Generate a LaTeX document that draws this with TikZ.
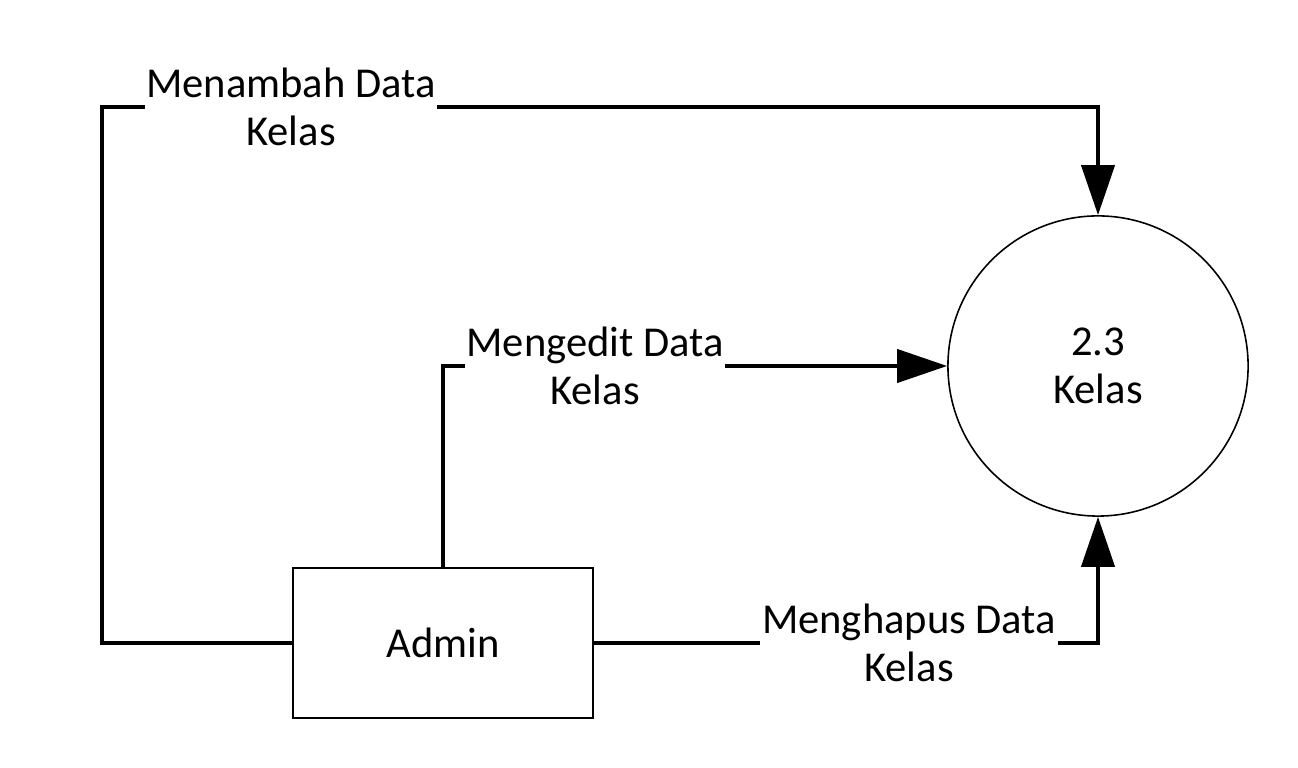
\documentclass[tikz,border=0pt]{standalone}
\usepackage{fontspec}
\setmainfont{Carlito}
\usetikzlibrary{arrows.meta}
\begin{document}
\begin{tikzpicture}[x=0.01cm,y=-0.01cm,
  every node/.style={font=\fontsize{12.1}{13.7}\selectfont},
  flow/.style={line width=1.2pt},
  arr/.style={flow,-{Triangle[length=0.5cm,width=0.33cm]}},
  lbl/.style={fill=white,align=center,inner xsep=0.5pt,inner ysep=1pt},
  entity/.style={draw,line width=0.45pt,minimum width=3cm,minimum height=1.5cm,inner sep=0pt},
  process/.style={draw,circle,line width=0.45pt,minimum size=3cm,inner sep=0pt,align=center}]
\useasboundingbox (0,0) rectangle (1298,768);
\node[entity] (admin) at (443,643) {Admin};
\node[process] (kelas) at (1098,366) {2.3\\Kelas};
\coordinate (c1) at (102,643);
\coordinate (c2) at (102,107);
\coordinate (c3) at (1098,107);
\coordinate (c4) at (443,366);
\coordinate (c5) at (1098,643);
\draw[arr] (admin.west) -- (c1) -- (c2) -- (c3) -- (kelas.north);
\draw[arr] (admin.north) -- (c4) -- (kelas.west);
\draw[arr] (admin.east) -- (c5) -- (kelas.south);
\node[lbl] (l1) at (291,107) {Menambah Data\\Kelas};
\node[lbl] (l2) at (595,366) {Mengedit Data\\Kelas};
\node[lbl] (l3) at (909,643) {Menghapus Data\\Kelas};
\end{tikzpicture}
\end{document}
